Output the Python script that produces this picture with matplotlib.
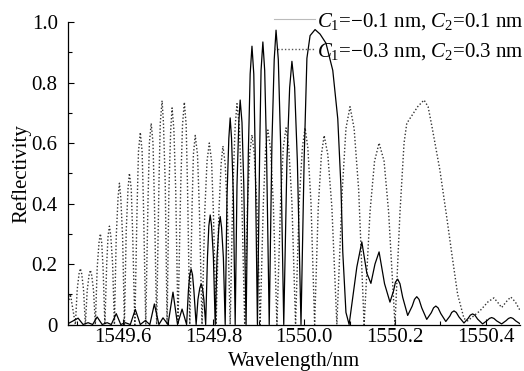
import matplotlib
matplotlib.use("Agg")
import matplotlib.pyplot as plt
from matplotlib.lines import Line2D
from matplotlib.ticker import MultipleLocator

plt.rcParams['font.family'] = ['Liberation Serif', 'DejaVu Serif']
plt.rcParams['mathtext.fontset'] = 'custom'
plt.rcParams['mathtext.rm'] = 'Liberation Serif'
plt.rcParams['mathtext.it'] = 'Liberation Serif:italic'
plt.rcParams['font.size'] = 15

# C1=-0.1 nm, C2=0.1 nm (solid): troughs, peaks and shoulders
solid_wl = [1549.480, 1549.502, 1549.513, 1549.524, 1549.534, 1549.544, 1549.555, 1549.566,
            1549.575, 1549.586, 1549.596, 1549.606, 1549.617, 1549.628, 1549.639, 1549.650,
            1549.660, 1549.670, 1549.680, 1549.689, 1549.700, 1549.711, 1549.721, 1549.731,
            1549.741, 1549.745, 1549.748, 1549.751, 1549.754, 1549.757,
            1549.762, 1549.766, 1549.770, 1549.773, 1549.776, 1549.779,
            1549.783, 1549.787, 1549.790, 1549.793, 1549.796, 1549.800,
            1549.804, 1549.808, 1549.812, 1549.815, 1549.818, 1549.822,
            1549.826, 1549.830, 1549.834, 1549.837, 1549.840, 1549.844,
            1549.848, 1549.852, 1549.856, 1549.859, 1549.863, 1549.867,
            1549.872, 1549.877, 1549.881, 1549.885, 1549.889, 1549.892,
            1549.897, 1549.902, 1549.905, 1549.909, 1549.913, 1549.917,
            1549.923, 1549.929, 1549.934, 1549.938, 1549.943, 1549.948,
            1549.955, 1549.962, 1549.968, 1549.973, 1549.979, 1549.985,
            1549.993, 1550.000, 1550.006, 1550.013, 1550.024, 1550.035, 1550.048, 1550.063,
            1550.074, 1550.081, 1550.085, 1550.092,
            1550.099, 1550.116, 1550.127, 1550.138, 1550.147, 1550.156, 1550.165, 1550.177,
            1550.189, 1550.197, 1550.201, 1550.206, 1550.211, 1550.217,
            1550.228, 1550.238, 1550.243, 1550.248, 1550.253, 1550.259,
            1550.270, 1550.280, 1550.285, 1550.290, 1550.295, 1550.301,
            1550.312, 1550.321, 1550.325, 1550.330, 1550.335, 1550.341,
            1550.352, 1550.361, 1550.366, 1550.371, 1550.376, 1550.382,
            1550.393, 1550.403, 1550.408, 1550.413, 1550.418, 1550.424,
            1550.435, 1550.445, 1550.450, 1550.455, 1550.460, 1550.466, 1550.475]
solid_r = [0.003, 0.021, 0.0, 0.006, 0.0, 0.025, 0.0, 0.006,
           0.0, 0.036, 0.0, 0.006, 0.0, 0.050, 0.0, 0.013,
           0.0, 0.068, 0.0, 0.022, 0.0, 0.107, 0.0, 0.051,
           0.0, 0.113, 0.165, 0.183, 0.165, 0.113,
           0.0, 0.083, 0.120, 0.134, 0.120, 0.083,
           0.0, 0.224, 0.326, 0.362, 0.326, 0.224,
           0.0, 0.221, 0.321, 0.357, 0.321, 0.221,
           0.0, 0.423, 0.615, 0.683, 0.615, 0.423,
           0.0, 0.460, 0.668, 0.742, 0.668, 0.460,
           0.0, 0.570, 0.828, 0.920, 0.828, 0.570,
           0.0, 0.579, 0.840, 0.934, 0.840, 0.579,
           0.0, 0.603, 0.876, 0.973, 0.876, 0.603,
           0.0, 0.540, 0.783, 0.870, 0.783, 0.540,
           0.0, 0.55, 0.88, 0.955, 0.975, 0.96, 0.93, 0.84,
           0.68, 0.455, 0.24, 0.04,
           0.0, 0.19, 0.273, 0.17, 0.136, 0.20, 0.24, 0.135,
           0.074, 0.112, 0.140, 0.150, 0.135, 0.090,
           0.030, 0.061, 0.083, 0.092, 0.083, 0.055,
           0.017, 0.039, 0.055, 0.061, 0.055, 0.036,
           0.010, 0.028, 0.040, 0.045, 0.040, 0.025,
           0.005, 0.020, 0.031, 0.035, 0.031, 0.018,
           0.002, 0.013, 0.020, 0.023, 0.020, 0.012,
           0.002, 0.013, 0.020, 0.023, 0.020, 0.012, 0.003]

# C1=-0.3 nm, C2=0.3 nm (dotted)
dotted_wl = [1549.480, 1549.485,
             1549.496, 1549.500, 1549.504, 1549.507, 1549.510, 1549.514,
             1549.518, 1549.522, 1549.526, 1549.529, 1549.532, 1549.536,
             1549.540, 1549.544, 1549.548, 1549.551, 1549.554, 1549.557,
             1549.561, 1549.565, 1549.568, 1549.571, 1549.574, 1549.578,
             1549.582, 1549.586, 1549.590, 1549.593, 1549.596, 1549.600,
             1549.604, 1549.608, 1549.612, 1549.615, 1549.619, 1549.622,
             1549.627, 1549.632, 1549.635, 1549.639, 1549.643, 1549.646,
             1549.651, 1549.656, 1549.659, 1549.663, 1549.667, 1549.670,
             1549.675, 1549.680, 1549.683, 1549.687, 1549.690, 1549.694,
             1549.698, 1549.702, 1549.706, 1549.709, 1549.713, 1549.717,
             1549.722, 1549.728, 1549.732, 1549.736, 1549.740, 1549.743,
             1549.748, 1549.753, 1549.756, 1549.760, 1549.765, 1549.769,
             1549.775, 1549.781, 1549.786, 1549.791, 1549.796, 1549.800,
             1549.806, 1549.812, 1549.817, 1549.821, 1549.826, 1549.831,
             1549.837, 1549.843, 1549.848, 1549.852, 1549.857, 1549.862,
             1549.869, 1549.875, 1549.880, 1549.885, 1549.890, 1549.896,
             1549.903, 1549.910, 1549.915, 1549.920, 1549.926, 1549.932,
             1549.940, 1549.948, 1549.954, 1549.960, 1549.966, 1549.973,
             1549.981, 1549.989, 1549.996, 1550.002, 1550.008, 1550.015,
             1550.023, 1550.031, 1550.038, 1550.044, 1550.052, 1550.061,
             1550.072, 1550.084, 1550.092, 1550.101, 1550.110, 1550.120,
             1550.132, 1550.145, 1550.155, 1550.165, 1550.176, 1550.186,
             1550.200, 1550.211, 1550.220, 1550.226, 1550.237, 1550.250, 1550.264,
             1550.273, 1550.282, 1550.299, 1550.314, 1550.325, 1550.338, 1550.352,
             1550.360, 1550.387, 1550.405, 1550.418, 1550.428, 1550.435,
             1550.445, 1550.455, 1550.465, 1550.475]
dotted_r = [0.07, 0.10,
            0.0, 0.115, 0.167, 0.185, 0.167, 0.115,
            0.0, 0.112, 0.162, 0.180, 0.162, 0.112,
            0.0, 0.186, 0.270, 0.300, 0.270, 0.186,
            0.0, 0.200, 0.293, 0.325, 0.293, 0.200,
            0.0, 0.290, 0.420, 0.467, 0.420, 0.290,
            0.0, 0.310, 0.450, 0.500, 0.450, 0.310,
            0.0, 0.394, 0.572, 0.635, 0.572, 0.394,
            0.0, 0.412, 0.600, 0.665, 0.600, 0.412,
            0.0, 0.460, 0.666, 0.740, 0.666, 0.460,
            0.0, 0.444, 0.644, 0.716, 0.644, 0.444,
            0.0, 0.456, 0.660, 0.735, 0.660, 0.456,
            0.0, 0.388, 0.562, 0.625, 0.562, 0.388,
            0.0, 0.372, 0.540, 0.600, 0.540, 0.372,
            0.0, 0.366, 0.531, 0.590, 0.531, 0.366,
            0.0, 0.453, 0.657, 0.730, 0.657, 0.453,
            0.0, 0.389, 0.564, 0.627, 0.564, 0.389,
            0.0, 0.400, 0.579, 0.643, 0.579, 0.400,
            0.0, 0.403, 0.585, 0.650, 0.585, 0.403,
            0.0, 0.403, 0.585, 0.650, 0.585, 0.403,
            0.0, 0.388, 0.562, 0.625, 0.562, 0.388,
            0.0, 0.446, 0.648, 0.720, 0.648, 0.446,
            0.0, 0.372, 0.540, 0.600, 0.540, 0.372,
            0.0, 0.37, 0.60, 0.665, 0.69, 0.72, 0.742,
            0.72, 0.65, 0.51, 0.355, 0.236, 0.10, 0.02,
            0.012, 0.045, 0.075, 0.088, 0.070, 0.056,
            0.075, 0.091, 0.075, 0.048]

legend_labels = [r"$C_1$=$-$0.1 nm, $C_2$=0.1 nm", r"$C_1$=$-$0.3 nm, $C_2$=0.3 nm"]
xticks = [1549.6, 1549.8, 1550.0, 1550.2, 1550.4]
xtick_labels = ['1549.6', '1549.8', '1550.0', '1550.2', '1550.4']
yticks = [0, 0.2, 0.4, 0.6, 0.8, 1.0]
ytick_labels = ['0', '0.2', '0.4', '0.6', '0.8', '1.0']

fig = plt.figure(figsize=(5.24, 3.71), dpi=100)
ax = fig.add_axes([0.130, 0.1253, 0.862, 0.8154])

ax.plot(dotted_wl, dotted_r, color='#333333', lw=1.0, linestyle=(0, (1, 1.5)))
ax.plot(solid_wl, solid_r, color='black', lw=0.9)

ax.set_xlim(1549.48, 1550.475)
ax.set_ylim(0, 1.0)
ax.set_xticks(xticks)
ax.set_xticklabels(xtick_labels)
ax.set_yticks(yticks)
ax.set_yticklabels(ytick_labels)
ax.xaxis.set_minor_locator(MultipleLocator(0.1))
ax.yaxis.set_minor_locator(MultipleLocator(0.1))
ax.tick_params(which='both', direction='in', width=0.8, top=False, right=False)
ax.tick_params(which='major', length=4)
ax.tick_params(which='minor', length=3)
ax.tick_params(axis='x', pad=2.5)
ax.tick_params(axis='y', pad=7.5)
for s in ['top', 'right']:
    ax.spines[s].set_visible(False)
for s in ['left', 'bottom']:
    ax.spines[s].set_linewidth(0.9)

ax.set_xlabel('Wavelength/nm')
ax.set_ylabel('Reflectivity')
ax.xaxis.set_label_coords(0.5, -0.092)
ax.yaxis.set_label_coords(-0.082, 0.5)

handles = [Line2D([], [], color='#bbbbbb', lw=0.8),
           Line2D([], [], color='#555555', lw=1.0, linestyle=(0, (1, 1.5)))]
fig.legend(handles, legend_labels, loc='upper right', bbox_to_anchor=(1.004, 0.976),
           frameon=False, handlelength=1.95, handletextpad=0.1, labelspacing=0.45,
           borderpad=0.1, borderaxespad=0.0)

fig.savefig('out.png', dpi=100)
